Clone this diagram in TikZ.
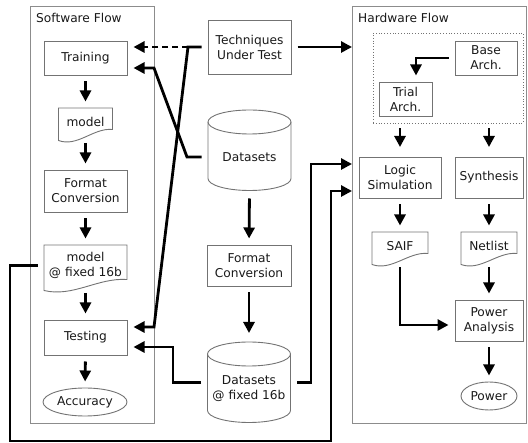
\documentclass[tikz,border=0pt]{standalone}
\usepackage{fontspec}
\setmainfont{DejaVu Sans}
\usetikzlibrary{arrows.meta, calc, shapes.geometric}

\newcommand{\docshape}[1]{%
\draw[boxline] (#1.north west) -- ($(#1.south west)+(0,4)$)
  .. controls ($(#1.south west)!0.35!(#1.south east)+(0,11)$) and ($(#1.south west)!0.65!(#1.south east)+(0,-9)$)
  .. ($(#1.south east)+(0,-7)$) -- (#1.north east) -- cycle;}
\newcommand{\dbshape}[1]{%
\draw[boxline] (#1.north) ellipse [x radius=41.5pt, y radius=12pt];
\draw[boxline] (#1.north west) -- ($(#1.south west)+(0,-13.5)$)
  arc [start angle=180, end angle=360, x radius=41.5pt, y radius=12pt] -- (#1.north east);}

\begin{document}
\begin{tikzpicture}[x=1pt, y=-1pt,
every node/.style={font=\fontsize{12.2}{15}\selectfont, text=black!90, align=center},
boxline/.style={draw=black!55, line width=0.9pt},
box/.style={boxline, minimum width=83pt, inner sep=0pt, outer sep=0pt},
docnode/.style={inner sep=0pt, outer sep=0pt},
dbnode/.style={minimum width=83pt, minimum height=70pt, inner sep=0pt, outer sep=0pt},
oval/.style={ellipse, boxline, minimum height=28pt, inner sep=0pt, outer sep=0pt},
frame/.style={draw=black!45, line width=0.9pt, inner sep=0pt, outer sep=0pt},
group/.style={draw=black!55, dotted, line width=0.8pt, minimum width=150pt, minimum height=90pt},
conn/.style={line width=2.8pt, -{Triangle[length=11pt,width=11pt]}, shorten <=6.5pt, shorten >=6.5pt}]
\useasboundingbox (0,0) rectangle (528,443);

\node[frame, minimum width=124pt, minimum height=417pt] (swf) at (92,214.5) {};
\node[anchor=base west, inner sep=0pt] (swlab) at (36,22.5) {Software Flow};
\node[frame, minimum width=174.5pt, minimum height=417pt] (hwf) at (439.25,214.5) {};
\node[anchor=base west, inner sep=0pt] (hwlab) at (358,22.5) {Hardware Flow};

\node[box, minimum height=34pt] (train) at (85.5,58) {Training};
\node[docnode, minimum width=54pt, minimum height=28.5pt] (model) at (85.5,122.25) {model};
\node[box, minimum height=42pt] (fmtsw) at (85.5,191) {Format\\Conversion};
\node[docnode, minimum width=83pt, minimum height=41.5pt] (m16) at (85.5,265.75) {model\\@ fixed 16b};
\node[box, minimum height=35pt] (test) at (85.5,337.5) {Testing};
\node[oval, minimum width=84pt] (acc) at (85,402) {Accuracy};
\docshape{model}
\docshape{m16}

\node[box, minimum height=54pt] (tut) at (249.5,47) {Techniques\\Under Test};
\node[dbnode] (data) at (249.5,157) {Datasets};
\node[box, minimum width=84pt, minimum height=41pt] (fmtds) at (249,265.5) {Format\\Conversion};
\node[dbnode] (d16) at (249,389) {Datasets\\@ fixed 16b};
\dbshape{data}
\dbshape{d16}

\node[group] (grp) at (448,78) {};
\node[box, minimum width=62pt, minimum height=34pt] (base) at (486,58) {Base\\Arch.};
\node[box, minimum width=53pt, minimum height=34pt] (trial) at (405.5,99) {Trial\\Arch.};
\node[box, minimum width=82pt, minimum height=41pt] (lsim) at (400,177.5) {Logic\\Simulation};
\node[box, minimum width=68pt, minimum height=41pt] (synth) at (489,177.5) {Synthesis};
\node[docnode, minimum width=56pt, minimum height=28.5pt] (saif) at (400,246.25) {SAIF};
\node[docnode, minimum width=56pt, minimum height=28.5pt] (net) at (489,246.25) {Netlist};
\node[box, minimum width=68pt, minimum height=41pt] (pwa) at (489,320.5) {Power\\Analysis};
\node[oval, minimum width=56pt] (pwr) at (489,396) {Power};
\docshape{saif}
\docshape{net}

\draw[conn] (train.south) -- (model.north);
\draw[conn] (model.south) -- (fmtsw.north);
\draw[conn] (fmtsw.south) -- (m16.north);
\draw[conn] (m16.south) -- (test.north);
\draw[conn] (test.south) -- (acc.north);
\draw[conn] (data.south) -- (fmtds.north);
\draw[conn, shorten >=21pt] (fmtds.south) -- (d16.north);

\draw[conn, shorten >=0pt] (tut.east) -- (tut.east -| hwf.west);
\draw[conn] (base.west) -| ([xshift=10.5pt]trial.north);
\draw[conn, shorten <=5pt, shorten >=10pt] (lsim.north |- grp.south) -- (lsim.north);
\draw[conn, shorten <=5pt, shorten >=10pt] (synth.north |- grp.south) -- (synth.north);
\draw[conn] (lsim.south) -- (saif.north);
\draw[conn] (synth.south) -- (net.north);
\draw[conn] (net.south) -- (pwa.north);
\draw[conn] (saif.south) |- ([yshift=-4.5pt]pwa.west);
\draw[conn] (pwa.south) -- (pwr.north);

\coordinate (split) at (188,47);
\coordinate (bendT) at (154,327);
\coordinate (bendD) at (187,157);
\coordinate (bendR) at (154,68);
\coordinate (d16l) at ([yshift=6.5pt]d16.west);
\coordinate (d16r) at ([yshift=6.5pt]d16.east);
\coordinate (dropL) at (173,382.5);
\coordinate (riseR) at (311,382.5);
\coordinate (loopL) at (10,441);
\coordinate (loopR) at (331,441);

\draw[conn] (tut.west) -- (split) -- (bendT) -- ([yshift=10.5pt]test.east);
\draw[conn, dash pattern=on 6pt off 4pt, shorten <=0pt] (split) -- (split -| train.east);
\draw[conn] (data.west) -- (bendD) -- (bendR) -- (bendR -| train.east);
\draw[conn] (d16l) -- (dropL) |- ([yshift=-9.5pt]test.east);
\draw[conn, shorten >=7pt] (d16r) -- (riseR) |- ([yshift=13.5pt]lsim.west);
\draw[conn, shorten >=7pt] (m16.west) -| (loopL) -- (loopR) |- ([yshift=-13.5pt]lsim.west);
\end{tikzpicture}
\end{document}
